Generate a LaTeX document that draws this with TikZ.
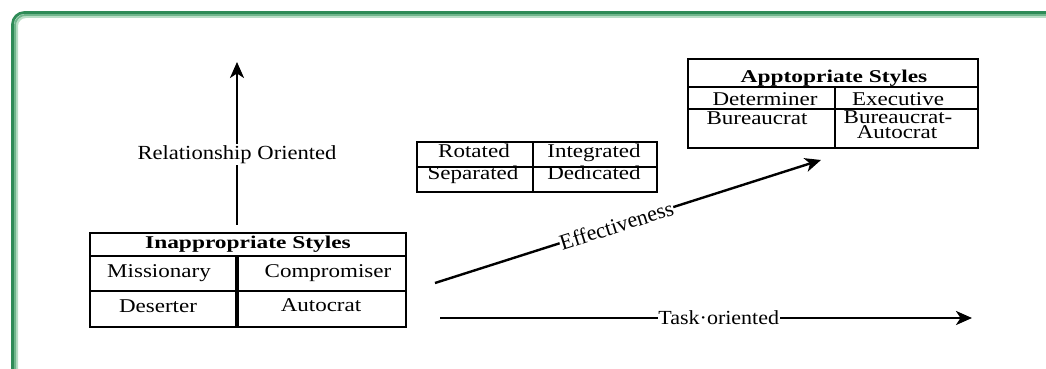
\documentclass[tikz,border=0pt]{standalone}
\usepackage{fontspec}
\setmainfont{Liberation Serif}
\usetikzlibrary{arrows.meta}
\definecolor{frameA}{RGB}{46,139,87}
\definecolor{frameB}{RGB}{112,182,140}
\definecolor{frameC}{RGB}{185,222,198}
% horizontally widened text
\newcommand{\wx}[2][1.18]{\scalebox{#1}[1]{#2}}

\begin{document}
\begin{tikzpicture}[x=1pt,y=1pt,
  celltxt/.style={font=\fontsize{19.5}{21}\selectfont, anchor=base, inner sep=0pt},
  headtxt/.style={font=\bfseries\fontsize{18}{20}\selectfont, anchor=base, inner sep=0pt},
  grid/.style={line width=1.5pt, black},
  heavyrule/.style={line width=3.2pt, black},
  axis/.style={line width=2.4pt, -{Stealth[length=16pt,width=14pt,inset=4.5pt]}},
  axislabel/.style={font=\fontsize{20}{22}\selectfont, fill=white, inner sep=1.5pt}
]
\useasboundingbox (0,0) rectangle (1046,369);
\clip (0,0) rectangle (1046,369);

% green page frame (top-left corner only)
\draw[frameC, line width=2pt, rounded corners=9pt]   (17,-20) -- (17,352) -- (1070,352);
\draw[frameB, line width=2pt, rounded corners=10.5pt] (15,-20) -- (15,354) -- (1070,354);
\draw[frameA, line width=2.8pt, rounded corners=12pt] (12.5,-20) -- (12.5,356.5) -- (1070,356.5);

% ---- Inappropriate styles table
\node[draw, grid, minimum width=316pt, minimum height=94pt, inner sep=0pt] (inapp) at (248,89) {};
\draw[grid] (90,113) -- (406,113);
\draw[grid] (90,78) -- (406,78);
\draw[heavyrule] (237,113) -- (237,42);
\node[headtxt] (inh) at (248,120) {\wx[1.3]{Inappropriate Styles}};
\node[celltxt] (mis) at (159,91) {\wx{Missionary}};
\node[celltxt] (com) at (328,91) {\wx{Compromiser}};
\node[celltxt] (des) at (158,56) {\wx{Deserter}};
\node[celltxt] (aut) at (321,57) {\wx{Autocrat}};

% ---- middle table
\node[draw, grid, minimum width=240pt, minimum height=50pt, inner sep=0pt] (mid) at (537,202) {};
\draw[grid] (417,202) -- (657,202);
\draw[grid] (533,227) -- (533,177);
\node[celltxt] (rot) at (474,211) {\wx{Rotated}};
\node[celltxt] (int) at (594,211) {\wx{Integrated}};
\node[celltxt] (sep) at (473,189) {\wx{Separated}};
\node[celltxt] (ded) at (594,189) {\wx{Dedicated}};

% ---- appropriate styles table
\node[draw, grid, minimum width=290pt, minimum height=89pt, inner sep=0pt] (app) at (833,265.5) {};
\draw[grid] (688,282) -- (978,282);
\draw[grid] (688,260) -- (978,260);
\draw[grid] (835,282) -- (835,221);
\node[headtxt] (aph) at (834,286) {\wx[1.3]{Apptopriate Styles}};
\node[celltxt] (det) at (765,263) {\wx{Determiner}};
\node[celltxt] (exe) at (898,263) {\wx{Executive}};
\node[celltxt] (bur) at (757,244) {\wx{Bureaucrat}};
\node[celltxt] (bua) at (898,245) {\wx{Bureaucrat-}};
\node[celltxt] (bub) at (897,230) {\wx{Autocrat}};

% ---- axes
\coordinate (relS) at (237,144);
\coordinate (relE) at (237,307);
\draw[axis] (relS) -- (relE) node[axislabel, pos=0.43] (rel) {\wx[1.13]{Relationship Oriented}};

\coordinate (effS) at (435,86);
\coordinate (effE) at (821,209);
\draw[axis] (effS) -- (effE) node[axislabel, sloped, pos=0.47, inner sep=0.5pt, font=\fontsize{22}{24}\selectfont] (eff) {Effectiveness};

\coordinate (taskS) at (440,51);
\coordinate (taskE) at (972,51);
\draw[axis] (taskS) -- (taskE) node[axislabel, pos=0.524, inner sep=0.5pt] (task) {\wx[1.1]{Task·oriented}};
\end{tikzpicture}
\end{document}
